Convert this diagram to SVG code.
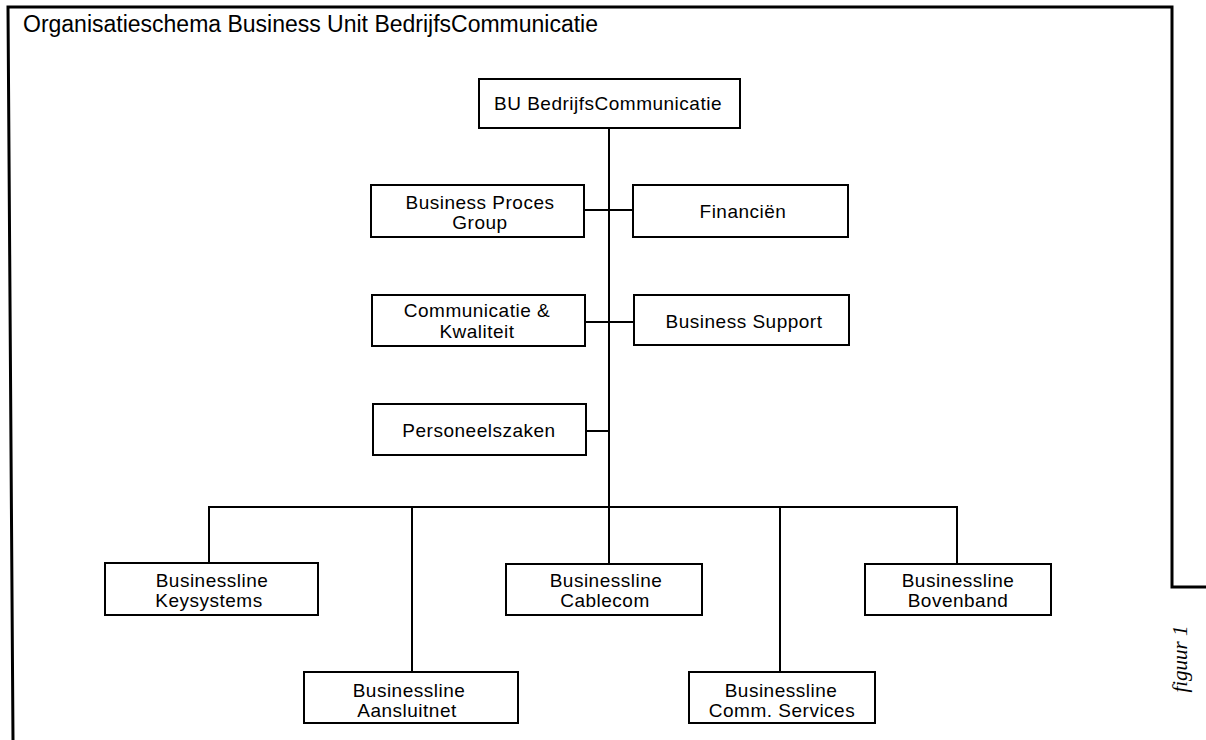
<svg xmlns="http://www.w3.org/2000/svg" width="1206" height="740" viewBox="0 0 1206 740">
  <style>
    .box { fill: #ffffff; stroke: #000000; stroke-width: 2; }
    .lbl { font-family: "Liberation Sans", Arial, sans-serif; font-size: 19px; letter-spacing: 0.5px; fill: #000000; text-anchor: middle; }
    .wire { fill: none; stroke: #000000; stroke-width: 2; }
    .frame { fill: none; stroke: #000000; stroke-width: 3; }
    .title { font-family: "Liberation Sans", Arial, sans-serif; font-size: 23px; fill: #000000; }
    .fig { font-family: "Liberation Serif", "Times New Roman", serif; font-style: italic; font-size: 21px; fill: #000000; text-anchor: middle; }
  </style>
  <rect width="1206" height="740" fill="#ffffff"/>

  <!-- page frame -->
  <path class="frame" d="M13 740 L8 7 H1172 V587 H1206"/>
  <text class="title" x="23" y="32" textLength="575" lengthAdjust="spacingAndGlyphs">Organisatieschema Business Unit BedrijfsCommunicatie</text>
  <text class="fig" transform="translate(1187,659) rotate(-90)">figuur 1</text>

  <!-- connectors -->
  <g id="connectors">
    <path class="wire" d="M609 128 V564"/>
    <path class="wire" d="M584 210 H633"/>
    <path class="wire" d="M585 322 H634"/>
    <path class="wire" d="M586 431 H609"/>
    <path class="wire" d="M209 563 V507 H957 V564"/>
    <path class="wire" d="M412 507 V672"/>
    <path class="wire" d="M780 507 V672"/>
  </g>

  <!-- nodes -->
  <g id="bu-bedrijfscommunicatie">
    <rect class="box" x="479" y="79" width="261" height="49"/>
    <text class="lbl" x="608" y="110">BU BedrijfsCommunicatie</text>
  </g>
  <g id="business-proces-group">
    <rect class="box" x="371" y="185" width="213" height="52"/>
    <text class="lbl" x="480" y="209">Business Proces</text>
    <text class="lbl" x="480" y="229">Group</text>
  </g>
  <g id="financien">
    <rect class="box" x="633" y="185" width="215" height="52"/>
    <text class="lbl" x="743" y="218">Financiën</text>
  </g>
  <g id="communicatie-kwaliteit">
    <rect class="box" x="372" y="295" width="213" height="51"/>
    <text class="lbl" x="477" y="317">Communicatie &amp;</text>
    <text class="lbl" x="477" y="338">Kwaliteit</text>
  </g>
  <g id="business-support">
    <rect class="box" x="634" y="295" width="215" height="50"/>
    <text class="lbl" x="744" y="328">Business Support</text>
  </g>
  <g id="personeelszaken">
    <rect class="box" x="373" y="404" width="213" height="51"/>
    <text class="lbl" x="479" y="437">Personeelszaken</text>
  </g>
  <g id="bl-keysystems">
    <rect class="box" x="105" y="563" width="213" height="52"/>
    <text class="lbl" x="212" y="587">Businessline</text>
    <text class="lbl" x="209" y="607">Keysystems</text>
  </g>
  <g id="bl-aansluitnet">
    <rect class="box" x="304" y="672" width="214" height="51"/>
    <text class="lbl" x="409" y="697">Businessline</text>
    <text class="lbl" x="407" y="717">Aansluitnet</text>
  </g>
  <g id="bl-cablecom">
    <rect class="box" x="506" y="564" width="196" height="51"/>
    <text class="lbl" x="606" y="587">Businessline</text>
    <text class="lbl" x="605" y="607">Cablecom</text>
  </g>
  <g id="bl-comm-services">
    <rect class="box" x="689" y="672" width="186" height="51"/>
    <text class="lbl" x="781" y="697">Businessline</text>
    <text class="lbl" x="782" y="717">Comm. Services</text>
  </g>
  <g id="bl-bovenband">
    <rect class="box" x="865" y="564" width="186" height="51"/>
    <text class="lbl" x="958" y="587">Businessline</text>
    <text class="lbl" x="958" y="607">Bovenband</text>
  </g>
</svg>
